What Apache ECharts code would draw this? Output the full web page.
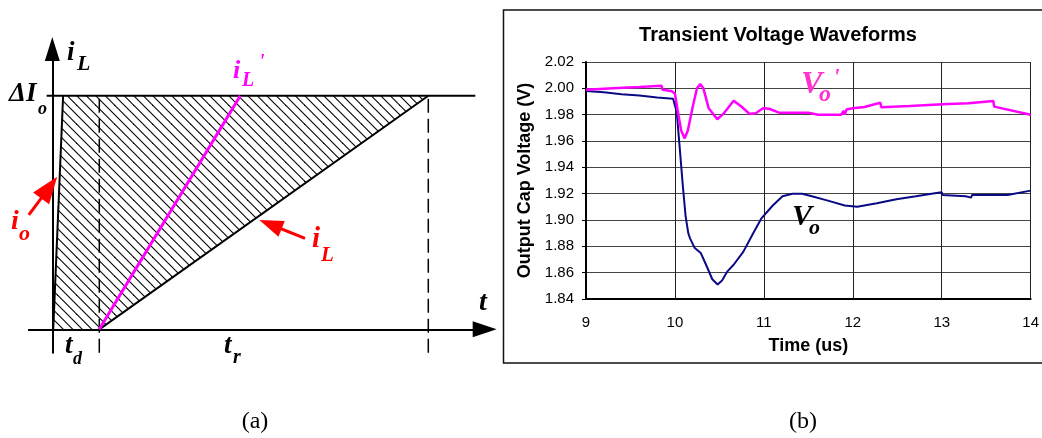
<!DOCTYPE html>
<html>
<head>
<meta charset="utf-8">
<script src="https://cdn.jsdelivr.net/npm/echarts@6/dist/echarts.min.js"></script>
<style>
  html, body { margin: 0; padding: 0; background: #fff; }
  #chart { width: 1042px; height: 438px; }
</style>
</head>
<body>
<div id="chart"></div>
<script>
// ---- (a) inductor current ramps: time in units of t_d, current in units of ΔIo ----
const ioTime = [0.02, 0.23];
const ioCurrent = [0, 1];
const iLTime = [1, 8];
const iLCurrent = [0, 1];
const iLpTime = [1, 4];
const iLpCurrent = [0, 1];
const stepTime = [-0.12, 9.0];
const stepCurrent = [1, 1];
const hatchTime = [0.02, 0.23, 8, 1];
const hatchCurrent = [0, 1, 1, 0];
const markerTimes = [1, 8];          // t_d and t_d + t_r
const markerSpan = [-0.1, 1];

// ---- (b) transient voltage waveforms ----
const voTime = [9.0, 9.2, 9.4, 9.6, 9.8, 9.98, 10.0, 10.02, 10.05, 10.09, 10.12, 10.15, 10.17,
  10.22, 10.29, 10.35, 10.42, 10.48, 10.53, 10.59, 10.66, 10.77, 10.88, 10.97, 11.1, 11.21,
  11.32, 11.43, 11.54, 11.72, 11.91, 12.05, 12.27, 12.49, 12.71, 12.94, 13.0, 13.01, 13.27,
  13.28, 13.33, 13.34, 13.74, 14.0];
const voVolt = [1.998, 1.997, 1.9955, 1.9945, 1.993, 1.992, 1.992, 1.982, 1.958, 1.925, 1.903,
  1.890, 1.886, 1.879, 1.875, 1.866, 1.855, 1.851, 1.854, 1.861, 1.866, 1.876, 1.890, 1.901,
  1.911, 1.918, 1.920, 1.920, 1.918, 1.9147, 1.911, 1.910, 1.9127, 1.9157, 1.918, 1.9205,
  1.921, 1.919, 1.918, 1.917, 1.917, 1.919, 1.919, 1.9223];
const vopTime = [9.0, 9.3, 9.6, 9.85, 9.86, 9.96, 10.0, 10.03, 10.07, 10.11, 10.145, 10.2,
  10.248, 10.285, 10.32, 10.38, 10.476, 10.55, 10.66, 10.75, 10.84, 10.91, 10.99, 11.06,
  11.17, 11.36, 11.5, 11.61, 11.87, 11.89, 11.9, 11.91, 11.93, 11.95, 12.0, 12.13, 12.31,
  12.32, 12.64, 13.01, 13.3, 13.58, 13.59, 14.0];
const vopVolt = [1.999, 2.0, 2.001, 2.002, 1.999, 1.998, 1.996, 1.9835, 1.968, 1.962, 1.968,
  1.986, 2.000, 2.0033, 2.000, 1.9848, 1.9765, 1.981, 1.9906, 1.986, 1.9805, 1.981, 1.9848,
  1.9845, 1.9815, 1.9815, 1.9815, 1.980, 1.980, 1.9785, 1.983, 1.980, 1.984, 1.9825, 1.9848,
  1.9858, 1.989, 1.9856, 1.9866, 1.9879, 1.9887, 1.9904, 1.9861, 1.980];
const timeTicks = { min: 9, max: 14, step: 1 };
const voltTicks = { min: 1.84, max: 2.02, step: 0.02 };

const pairs = (xs, ys) => xs.map((x, i) => [x, ys[i]]);

// diagonal hatch tile for the shaded area
function hatchTile() {
  const s = 19, gap = 9.5;
  const c = document.createElement('canvas');
  c.width = s; c.height = s;
  const g = c.getContext('2d');
  g.strokeStyle = '#000';
  g.lineWidth = 1.1;
  for (let k = -2; k <= 2; k++) {
    const o = k * gap;
    g.beginPath();
    g.moveTo(-2, -2 + o);
    g.lineTo(s + 2, s + 2 + o);
    g.stroke();
  }
  return c;
}
const hatch = hatchTile();

const SERIF = '"Liberation Serif", "Times New Roman", serif';
const SANS = '"Liberation Sans", Arial, sans-serif';

// italic bold math-style letters, positioned by their vertical middle
function sym(str, x, y, size, color) {
  return {
    type: 'text', x: x, y: y, z: 100, silent: true,
    style: {
      text: str, fill: color,
      font: 'italic bold ' + size + 'px ' + SERIF,
      align: 'left', verticalAlign: 'middle',
      textAlign: 'left', textVerticalAlign: 'middle'
    }
  };
}
function caption(str, x, y) {
  return {
    type: 'text', x: x, y: y, z: 100, silent: true,
    style: {
      text: str, fill: '#000', font: '24px ' + SERIF,
      align: 'center', verticalAlign: 'middle',
      textAlign: 'center', textVerticalAlign: 'middle'
    }
  };
}

const graphics = [
  // frame of panel (b)
  { type: 'rect', z: 0, silent: true,
    shape: { x: 503.5, y: 10, width: 600, height: 353 },
    style: { fill: 'none', stroke: '#111', lineWidth: 1.5 } },
  // panel (a) symbols
  sym('i', 67, 53, 27, '#000'), sym('L', 77, 64, 22, '#000'),
  sym('ΔI', 9, 94, 27, '#000'), sym('o', 38, 109, 18, '#000'),
  sym('i', 233, 71, 26, '#ff00ff'), sym('L', 242, 81, 20, '#ff00ff'), sym("'", 259, 63, 20, '#ff00ff'),
  sym('i', 11, 222, 28, '#ff0000'), sym('o', 19, 234, 22, '#ff0000'),
  sym('i', 312, 240, 29, '#ff0000'), sym('L', 321, 256, 21, '#ff0000'),
  sym('t', 479, 303, 28, '#000'),
  sym('t', 65, 346, 27, '#000'), sym('d', 73, 359, 18, '#000'),
  sym('t', 224, 346, 27, '#000'), sym('r', 233, 358, 20, '#000'),
  // panel (b) curve names
  sym('V', 801, 85, 32, '#ff33cc'), sym('o', 819, 95, 24, '#ff33cc'), sym("'", 833, 78, 24, '#ff33cc'),
  sym('V', 792, 217, 30, '#000'), sym('o', 809, 228, 22, '#000'),
  // panel captions
  caption('(a)', 255, 422), caption('(b)', 803, 422),
  // title of panel (b)
  { type: 'text', x: 778, y: 35, z: 100, silent: true,
    style: { text: 'Transient Voltage Waveforms', fill: '#000', font: 'bold 20px ' + SANS,
      align: 'center', verticalAlign: 'middle', textAlign: 'center', textVerticalAlign: 'middle' } }
];

const chart = echarts.init(document.getElementById('chart'), null, { renderer: 'canvas' });

const plainLine = (name, data, color, width, z, extra) => Object.assign({
  name: name, type: 'line', xAxisIndex: 0, yAxisIndex: 0, data: data,
  symbol: 'none', silent: true, animation: false, clip: false, z: z,
  lineStyle: { color: color, width: width }
}, extra || {});

chart.setOption({
  animation: false,
  backgroundColor: '#fff',
  grid: [
    { left: 28.8, top: 49, width: 455.9, height: 303.7 },
    { left: 586, top: 62, width: 454, height: 237 }
  ],
  xAxis: [
    { gridIndex: 0, type: 'value', min: -0.5, max: 9.2,
      axisLine: { show: true, onZero: true, symbol: ['none', 'triangle'], symbolSize: [16, 24],
        lineStyle: { color: '#000', width: 2 } },
      axisTick: { show: false }, axisLabel: { show: false }, splitLine: { show: false } },
    { gridIndex: 1, type: 'value', min: timeTicks.min, max: timeTicks.max, interval: timeTicks.step,
      name: 'Time (us)', nameLocation: 'middle', nameGap: 38,
      nameTextStyle: { fontFamily: SANS, fontWeight: 'bold', fontSize: 18, color: '#000' },
      axisLine: { show: true, onZero: false, lineStyle: { color: '#000', width: 2 } },
      axisTick: { show: false },
      axisLabel: { margin: 16, fontFamily: SANS, fontSize: 15, color: '#000' },
      splitLine: { show: true, lineStyle: { color: '#222', width: 1 } } }
  ],
  yAxis: [
    { gridIndex: 0, type: 'value', min: -0.1, max: 1.2,
      axisLine: { show: true, onZero: true, symbol: ['none', 'triangle'], symbolSize: [15, 24],
        lineStyle: { color: '#000', width: 2 } },
      axisTick: { show: false }, axisLabel: { show: false }, splitLine: { show: false } },
    { gridIndex: 1, type: 'value', min: voltTicks.min, max: voltTicks.max, interval: voltTicks.step,
      name: 'Output Cap Voltage (V)', nameLocation: 'middle', nameGap: 52, nameRotate: 90,
      nameTextStyle: { fontFamily: SANS, fontWeight: 'bold', fontSize: 18, color: '#000' },
      axisLine: { show: true, onZero: false, lineStyle: { color: '#000', width: 2 } },
      axisTick: { show: true, length: 4, lineStyle: { color: '#000', width: 1 } },
      axisLabel: { margin: 12, fontFamily: SANS, fontSize: 15, color: '#000',
        formatter: v => v.toFixed(2) },
      splitLine: { show: true, lineStyle: { color: '#444', width: 1 } } }
  ],
  graphic: graphics,
  series: [
    // shaded area between i_o and i_L
    { type: 'custom', xAxisIndex: 0, yAxisIndex: 0, silent: true, animation: false, z: 1,
      data: pairs(hatchTime, hatchCurrent),
      encode: { x: 0, y: 1 },
      renderItem: function (params, api) {
        if (params.dataIndex !== 0) return null;
        const pts = hatchTime.map((t, i) => api.coord([t, hatchCurrent[i]]));
        return { type: 'polygon', shape: { points: pts },
          style: { fill: { image: hatch, repeat: 'repeat' }, stroke: null } };
      } },
    plainLine('ΔIo', pairs(stepTime, stepCurrent), '#000', 2, 3),
    plainLine('t_d', pairs([markerTimes[0], markerTimes[0]], markerSpan), '#000', 1.5, 3,
      { lineStyle: { color: '#000', width: 1.5, type: [14, 6] } }),
    plainLine('t_r', pairs([markerTimes[1], markerTimes[1]], markerSpan), '#000', 1.5, 3,
      { lineStyle: { color: '#000', width: 1.5, type: [14, 6] } }),
    plainLine('i_L', pairs(iLTime, iLCurrent), '#000', 2, 3),
    plainLine('i_o', pairs(ioTime, ioCurrent), '#000', 2, 3, {
      markLine: {
        silent: true, animation: false,
        symbol: ['none', 'triangle'],
        label: { show: false },
        emphasis: { disabled: true },
        lineStyle: { type: 'solid', color: '#ff0000', width: 3 },
        data: [
          [{ coord: [-0.5, 0.49] }, { coord: [-0.067, 0.607], symbolSize: [20, 27] }],
          [{ coord: [5.377, 0.3896] }, { coord: [4.642, 0.4488], symbolSize: [17, 24] }]
        ]
      }
    }),
    plainLine("i_L'", pairs(iLpTime, iLpCurrent), '#ff00ff', 3, 5),
    // panel (b) curves
    { name: 'Vo', type: 'line', xAxisIndex: 1, yAxisIndex: 1, data: pairs(voTime, voVolt),
      symbol: 'none', silent: true, z: 4,
      lineStyle: { color: '#0a0a85', width: 2 } },
    { name: "Vo'", type: 'line', xAxisIndex: 1, yAxisIndex: 1, data: pairs(vopTime, vopVolt),
      symbol: 'none', silent: true, z: 5,
      lineStyle: { color: '#ff00ff', width: 2.5 } }
  ]
});
</script>
</body>
</html>
